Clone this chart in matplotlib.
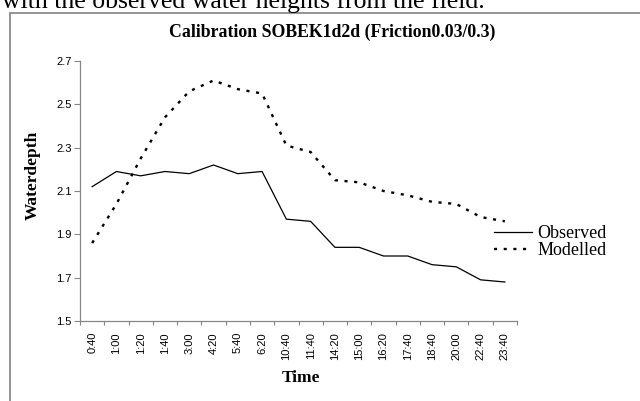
import matplotlib
matplotlib.use("Agg")
import matplotlib.pyplot as plt
from matplotlib.patches import Rectangle
from matplotlib.ticker import FixedLocator

times = ["0:40", "1:00", "1:20", "1:40", "3:00", "4:20", "5:40", "6:20", "10:40",
         "11:40", "14:20", "15:00", "16:20", "17:40", "18:40", "20:00", "22:40", "23:40"]
observed = [2.12, 2.19, 2.17, 2.19, 2.18, 2.22, 2.18, 2.19, 1.97,
            1.96, 1.84, 1.84, 1.80, 1.80, 1.76, 1.75, 1.69, 1.68]
modelled = [1.86, 2.04, 2.25, 2.44, 2.56, 2.61, 2.57, 2.55, 2.31,
            2.28, 2.15, 2.14, 2.10, 2.08, 2.05, 2.04, 1.98, 1.96]
y_ticks = [1.5, 1.7, 1.9, 2.1, 2.3, 2.5, 2.7]

W, H = 640, 401
fig = plt.figure(figsize=(W / 100, H / 100), dpi=100)
fig.patch.set_facecolor("white")

serif = "Liberation Serif"
sans = "Liberation Sans"
grey = "#868686"

# outer chart frame (left and top visible)
fig.patches.append(Rectangle((10 / W, -0.1), 1.2, (1 - 13 / H) + 0.1,
                             transform=fig.transFigure, fill=False,
                             edgecolor="#8c8c8c", lw=1.3))

# cut-off document text at top
fig.text(485 / W, 1 - 8 / H, "with the observed water heights from the field.",
         ha="right", va="baseline", fontsize=18.5, family=serif)

ax = fig.add_axes([80 / W, 1 - 321 / H, (517 - 80) / W, (321 - 61) / H])
x = list(range(len(times)))
l1, = ax.plot(x, observed, color="black", lw=0.9, label="Observed")
l2, = ax.plot(x, modelled, color="black", lw=1.7, linestyle=(0, (1.3, 2.8)),
              label="Modelled")

ax.set_xlim(-0.5, len(times) - 0.5)
ax.set_ylim(y_ticks[0], y_ticks[-1])
ax.set_yticks(y_ticks)
ax.set_yticklabels([f"{v:.1f}" for v in y_ticks], fontsize=8, family=sans)
ax.set_xticks(x)
ax.set_xticklabels(times, rotation=90, fontsize=8, family=sans)
ax.xaxis.set_minor_locator(FixedLocator([i - 0.5 for i in range(len(times) + 1)]))
ax.tick_params(axis="x", which="major", length=0, pad=8)
ax.tick_params(axis="x", which="minor", length=3, color=grey, width=0.8)
ax.tick_params(axis="y", length=4, color=grey, width=0.8, pad=2)

for s in ["top", "right"]:
    ax.spines[s].set_visible(False)
for s in ["left", "bottom"]:
    ax.spines[s].set_color(grey)
    ax.spines[s].set_linewidth(0.9)

fig.text(332 / W, 1 - 32 / H, "Calibration SOBEK1d2d (Friction0.03/0.3)",
         ha="center", va="center", fontsize=12.8, fontweight="bold", family=serif)
fig.text(33 / W, 1 - 175 / H, "Waterdepth", rotation=90, ha="center", va="center",
         fontsize=12.5, fontweight="bold", family=serif)
fig.text(301 / W, 1 - 378 / H, "Time", ha="center", va="center",
         fontsize=12.5, fontweight="bold", family=serif)

fig.legend(handles=[l1, l2], loc="center left", bbox_to_anchor=(494 / W, 1 - 242 / H),
           frameon=False, prop={"family": serif, "size": 13}, handlelength=2.1,
           handletextpad=0.3, borderpad=0, borderaxespad=0, labelspacing=0.0)

fig.savefig("out.png", dpi=100, facecolor="white")
